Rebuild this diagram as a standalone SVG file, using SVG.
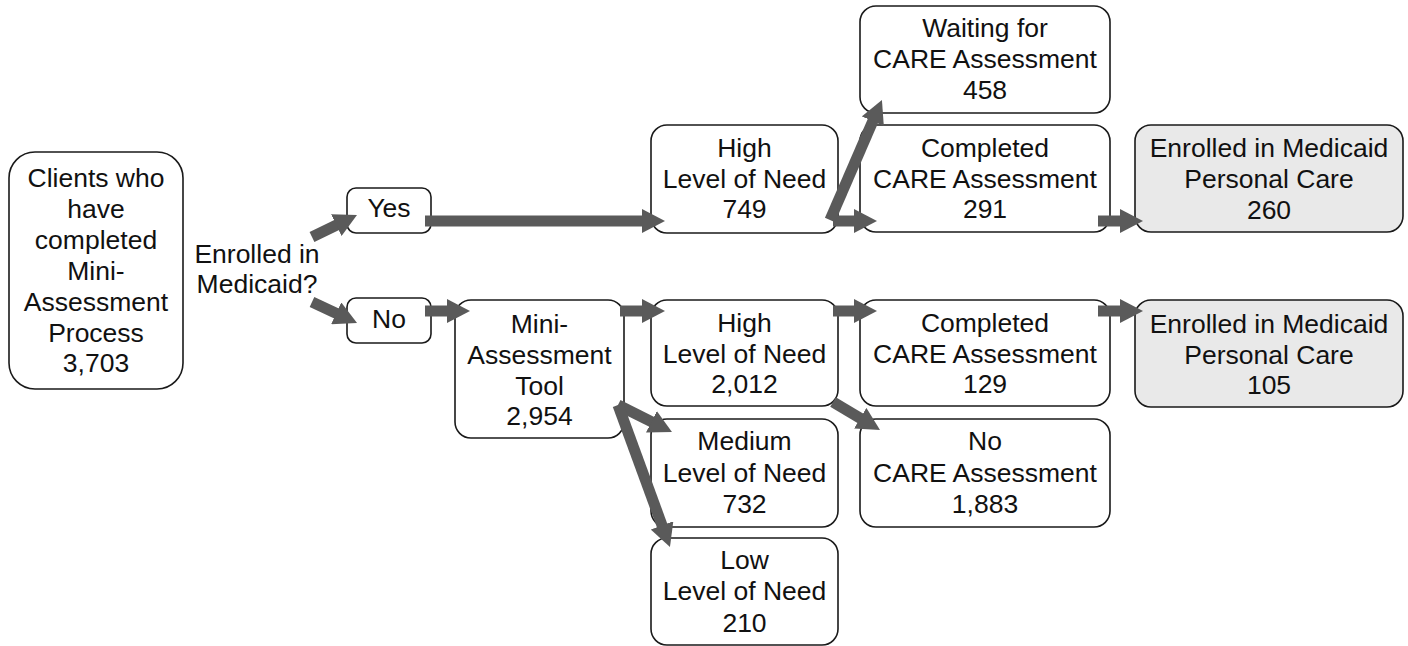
<svg xmlns="http://www.w3.org/2000/svg" width="1408" height="646" viewBox="0 0 1408 646">
<style>
.box{fill:#fff;stroke:#1a1a1a;stroke-width:1.6}
.grey{fill:#e9e9e9}
text{font-family:"Liberation Sans",Arial,sans-serif;font-size:26.5px;fill:#111;text-anchor:middle}
.conn line{stroke:#5a5a5a;stroke-width:11;marker-end:url(#ah)}
</style>
<defs>
<marker id="ah" markerUnits="userSpaceOnUse" markerWidth="23" markerHeight="24" refX="1" refY="12" orient="auto">
<path d="M0,0 L23,12 L0,24 z" fill="#5a5a5a"/>
</marker>
</defs>
<rect width="1408" height="646" fill="#fff"/>
<g id="clients"><rect class="box" x="9" y="152" width="174" height="237" rx="26"/>
<text x="96" y="187">Clients who</text><text x="96" y="218">have</text><text x="96" y="249">completed</text><text x="96" y="280">Mini-</text><text x="96" y="311">Assessment</text><text x="96" y="342">Process</text><text x="96" y="372">3,703</text></g>
<g id="question"><text x="257" y="263">Enrolled in</text><text x="257" y="293">Medicaid?</text></g>
<g id="yes"><rect class="box" x="347" y="188" width="84" height="45" rx="9"/><text x="389" y="217">Yes</text></g>
<g id="no"><rect class="box" x="347" y="298" width="84" height="45" rx="9"/><text x="389" y="328">No</text></g>
<g id="high749"><rect class="box" x="651" y="125" width="187" height="108" rx="16"/>
<text x="744.5" y="157">High</text><text x="744.5" y="188">Level of Need</text><text x="744.5" y="218">749</text></g>
<g id="mini"><rect class="box" x="455" y="300" width="169" height="138" rx="16"/>
<text x="539.5" y="333">Mini-</text><text x="539.5" y="364">Assessment</text><text x="539.5" y="395">Tool</text><text x="539.5" y="425">2,954</text></g>
<g id="high2012"><rect class="box" x="651" y="300" width="187" height="106" rx="16"/>
<text x="744.5" y="332">High</text><text x="744.5" y="363">Level of Need</text><text x="744.5" y="393">2,012</text></g>
<g id="medium"><rect class="box" x="651" y="419" width="187" height="108" rx="16"/>
<text x="744.5" y="450">Medium</text><text x="744.5" y="482">Level of Need</text><text x="744.5" y="513">732</text></g>
<g id="low"><rect class="box" x="651" y="538" width="187" height="107" rx="16"/>
<text x="744.5" y="569">Low</text><text x="744.5" y="600">Level of Need</text><text x="744.5" y="632">210</text></g>
<g id="waiting"><rect class="box" x="860" y="6" width="250" height="107" rx="16"/>
<text x="985" y="37">Waiting for</text><text x="985" y="68">CARE Assessment</text><text x="985" y="99">458</text></g>
<g id="completed291"><rect class="box" x="860" y="125" width="250" height="107" rx="16"/>
<text x="985" y="157">Completed</text><text x="985" y="188">CARE Assessment</text><text x="985" y="218">291</text></g>
<g id="completed129"><rect class="box" x="860" y="300" width="250" height="106" rx="16"/>
<text x="985" y="332">Completed</text><text x="985" y="363">CARE Assessment</text><text x="985" y="393">129</text></g>
<g id="nocare"><rect class="box" x="860" y="419" width="250" height="108" rx="16"/>
<text x="985" y="450">No</text><text x="985" y="482">CARE Assessment</text><text x="985" y="513">1,883</text></g>
<g id="enrolled260"><rect class="box grey" x="1135" y="125" width="268" height="107" rx="16"/>
<text x="1269" y="157">Enrolled in Medicaid</text><text x="1269" y="188">Personal Care</text><text x="1269" y="219">260</text></g>
<g id="enrolled105"><rect class="box grey" x="1135" y="300" width="268" height="107" rx="16"/>
<text x="1269" y="333">Enrolled in Medicaid</text><text x="1269" y="364">Personal Care</text><text x="1269" y="394">105</text></g>
<g id="connectors" class="conn">
<line x1="312" y1="237" x2="337.2" y2="224.7"/>
<line x1="312" y1="302" x2="337.1" y2="313.7"/>
<line x1="425" y1="221" x2="643" y2="221"/>
<line x1="425" y1="311" x2="448" y2="311"/>
<line x1="620" y1="311" x2="643" y2="311"/>
<line x1="833" y1="221" x2="855" y2="221"/>
<line x1="830" y1="220" x2="873.2" y2="120.2"/>
<line x1="1098" y1="221" x2="1121" y2="221"/>
<line x1="833" y1="311" x2="855" y2="311"/>
<line x1="1098" y1="311" x2="1121" y2="311"/>
<line x1="833" y1="402" x2="861.1" y2="418.7"/>
<line x1="618" y1="405" x2="652.3" y2="422.2"/>
<line x1="618" y1="405" x2="662.4" y2="526.3"/>
</g>
</svg>
